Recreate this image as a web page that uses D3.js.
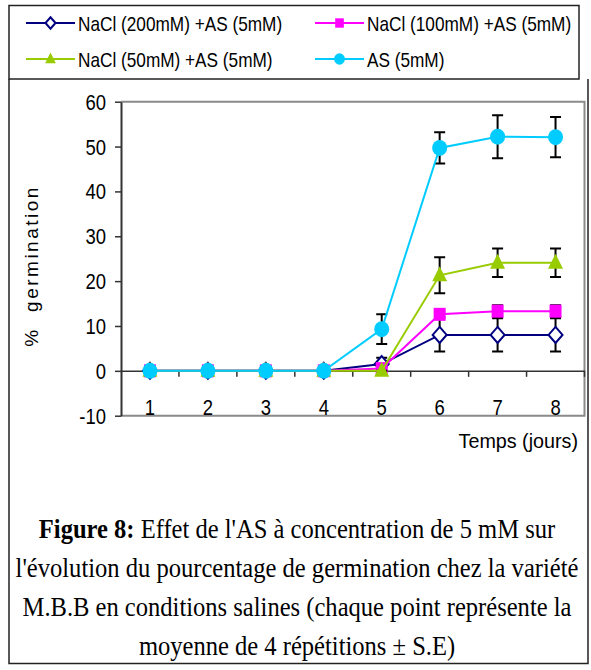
<!DOCTYPE html>
<html>
<head>
<meta charset="utf-8">
<script src="https://cdn.jsdelivr.net/npm/d3@7"></script>
<style>
  html, body { margin: 0; padding: 0; background: #fff; }
  svg { display: block; }
</style>
</head>
<body>
<svg id="chart" width="591" height="670"></svg>
<script>
// Days of measurement
const days = [1, 2, 3, 4, 5, 6, 7, 8];
const yTicks = [-10, 0, 10, 20, 30, 40, 50, 60];

// Germination (%) and standard errors for each treatment
const nacl200Mean = [0, 0, 0, 0, 1.5, 8.0, 8.0, 8.0];
const nacl200SE   = [0, 0, 0, 0, 1.4, 3.7, 3.7, 3.7];
const nacl100Mean = [0, 0, 0, 0, 0.5, 12.6, 13.3, 13.3];
const nacl100SE   = [0, 0, 0, 0, 0.3, 0.6, 1.3, 1.3];
const nacl50Mean  = [0, 0, 0, 0, 0, 21.3, 24.1, 24.1];
const nacl50SE    = [0, 0, 0, 0, 0, 4.0, 3.2, 3.2];
const asMean      = [0, 0, 0, 0, 9.3, 49.7, 52.2, 52.1];
const asSE        = [0, 0, 0, 0, 3.3, 3.5, 4.8, 4.5];

const seriesNames = [
  "NaCl (200mM) +AS (5mM)",
  "NaCl (100mM) +AS (5mM)",
  "NaCl (50mM) +AS (5mM)",
  "AS (5mM)"
];

const captionLines = [
  ["Figure 8:", " Effet de l'AS à concentration de 5 mM sur"],
  ["", "l'évolution du pourcentage de germination chez la variété"],
  ["", "M.B.B en conditions salines (chaque point représente la"],
  ["", "moyenne de 4 répétitions ± S.E)"]
];

const series = [
  { name: seriesNames[0], mean: nacl200Mean, se: nacl200SE, color: "#000080", shape: "diamond" },
  { name: seriesNames[1], mean: nacl100Mean, se: nacl100SE, color: "#FF00FF", shape: "square" },
  { name: seriesNames[2], mean: nacl50Mean,  se: nacl50SE,  color: "#99CC00", shape: "triangle" },
  { name: seriesNames[3], mean: asMean,      se: asSE,      color: "#00CCFF", shape: "circle" }
];

const svg = d3.select("#chart");
const sansFont = "'Liberation Sans', Arial, sans-serif";
const serifFont = "'Liberation Serif', 'Times New Roman', serif";

// Text helper: horizontally condensed glyphs
function condensedText(parent, x, y, str, size, anchor, sx, family) {
  const g = parent.append("g").attr("transform", `translate(${x},${y}) scale(${sx},1)`);
  return g.append("text")
    .attr("x", 0).attr("y", 0)
    .attr("text-anchor", anchor)
    .attr("font-family", family || sansFont)
    .attr("font-size", size)
    .attr("fill", "#000")
    .text(str);
}

// Frames: legend box and chart box
svg.append("rect").attr("x", 9).attr("y", 5.5).attr("width", 570).attr("height", 73.5)
  .attr("fill", "none").attr("stroke", "#222").attr("stroke-width", 1.5);
svg.append("path").attr("d", "M9,79 V663.5 H588 V79")
  .attr("fill", "none").attr("stroke", "#222").attr("stroke-width", 1.5);

// Scales
const plot = { left: 121, right: 584.5, top: 101.7, bottom: 415.7 };
const x = d3.scaleBand().domain(days).range([plot.left, plot.right]).padding(0);
const y = d3.scaleLinear().domain([-10, 60]).range([plot.bottom, plot.top]);
const cx = d => x(d) + x.bandwidth() / 2;

// Plot area border (top, right, bottom)
svg.append("path")
  .attr("d", `M${plot.left},${plot.top} H${plot.right} V${plot.bottom} H${plot.left}`)
  .attr("fill", "none").attr("stroke", "#8a8a8a").attr("stroke-width", 2);

// Y axis
const yAxis = svg.append("g").attr("transform", `translate(${plot.left},0)`)
  .call(d3.axisLeft(y).tickValues(yTicks).tickSize(6).tickSizeOuter(0).tickFormat(""));
yAxis.select(".domain").attr("stroke", "#333").attr("stroke-width", 2);
yAxis.selectAll(".tick line").attr("stroke", "#333").attr("stroke-width", 1.5);
yTicks.forEach(t => {
  condensedText(svg, 106, y(t) + 8, String(t), 22, "end", 0.84);
});

// Zero line with category ticks hanging below it
const xAxis = svg.append("g").attr("transform", `translate(0,${y(0)})`)
  .call(d3.axisBottom(x).tickSize(0).tickFormat(""));
xAxis.select(".domain").attr("stroke", "#333").attr("stroke-width", 1.5);
xAxis.selectAll(".tick").remove();
const boundaries = days.slice(1).map(d => x(d)).concat([plot.right]);
svg.append("g").selectAll("line").data(boundaries).join("line")
  .attr("x1", d => d).attr("x2", d => d)
  .attr("y1", y(0)).attr("y2", y(0) + 6)
  .attr("stroke", "#333").attr("stroke-width", 1.5);
days.forEach(d => {
  condensedText(svg, cx(d), 414.5, String(d), 22, "middle", 0.84);
});

// Axis titles
condensedText(svg, 578, 448, "Temps (jours)", 21, "end", 0.94);
svg.append("text")
  .attr("transform", `translate(38,266) rotate(-90)`)
  .attr("text-anchor", "middle")
  .attr("font-family", sansFont)
  .attr("font-size", 19)
  .attr("letter-spacing", 2.5)
  .attr("xml:space", "preserve")
  .style("white-space", "pre")
  .text("%  germination");

// Marker shapes
function drawMarker(g, shape, color, px, py, s) {
  if (shape === "diamond") {
    g.append("path")
      .attr("d", `M${px},${py - 8 * s} L${px + 7 * s},${py} L${px},${py + 8 * s} L${px - 7 * s},${py} Z`)
      .attr("fill", "#fff").attr("stroke", color).attr("stroke-width", 2);
  } else if (shape === "square") {
    g.append("rect")
      .attr("x", px - 6 * s).attr("y", py - 6.5 * s)
      .attr("width", 12 * s).attr("height", 13 * s)
      .attr("fill", color);
  } else if (shape === "triangle") {
    g.append("path")
      .attr("d", `M${px},${py - 9 * s} L${px + 7.5 * s},${py + 6 * s} L${px - 7.5 * s},${py + 6 * s} Z`)
      .attr("fill", color);
  } else {
    g.append("ellipse")
      .attr("cx", px).attr("cy", py).attr("rx", 7.5 * s).attr("ry", 8 * s)
      .attr("fill", color);
  }
}

// Series: error bars, line, markers
const line = d3.line().x(d => cx(d.day)).y(d => y(d.v));
series.forEach(s => {
  const g = svg.append("g");
  const pts = days.map((d, i) => ({ day: d, v: s.mean[i], e: s.se[i] }));
  const eb = g.append("g");
  pts.forEach(p => {
    const x0 = cx(p.day), yt = y(p.v + p.e), yb = y(p.v - p.e);
    eb.append("path")
      .attr("d", `M${x0},${yt} V${yb} M${x0 - 5.5},${yt} H${x0 + 5.5} M${x0 - 5.5},${yb} H${x0 + 5.5}`)
      .attr("stroke", "#000").attr("stroke-width", 2).attr("fill", "none");
  });
  g.append("path").datum(pts).attr("d", line)
    .attr("fill", "none").attr("stroke", s.color).attr("stroke-width", 2);
  pts.forEach(p => drawMarker(g, s.shape, s.color, cx(p.day), y(p.v), 1));
});

// Legend
const legendPos = [
  { lx: 26, ty: 23 }, { lx: 315, ty: 23 },
  { lx: 26, ty: 59 }, { lx: 315, ty: 59 }
];
series.forEach((s, i) => {
  const p = legendPos[i];
  const g = svg.append("g");
  g.append("line").attr("x1", p.lx).attr("x2", p.lx + 49)
    .attr("y1", p.ty).attr("y2", p.ty)
    .attr("stroke", s.color).attr("stroke-width", 2);
  drawMarker(g, s.shape, s.color, p.lx + 24.5, p.ty, 0.72);
  condensedText(g, p.lx + 52, p.ty + 7.5, s.name, 21, "start", 0.82);
});

// Caption
const capY = [538, 577, 616, 655];
captionLines.forEach((ln, i) => {
  const g = svg.append("g").attr("transform", `translate(297,${capY[i]}) scale(0.91,1)`);
  const t = g.append("text").attr("x", 0).attr("y", 0)
    .attr("text-anchor", "middle")
    .attr("font-family", serifFont)
    .attr("font-size", 27)
    .attr("fill", "#000");
  if (ln[0]) t.append("tspan").attr("font-weight", "bold").text(ln[0]);
  t.append("tspan").text(ln[1]);
});
</script>
</body>
</html>
